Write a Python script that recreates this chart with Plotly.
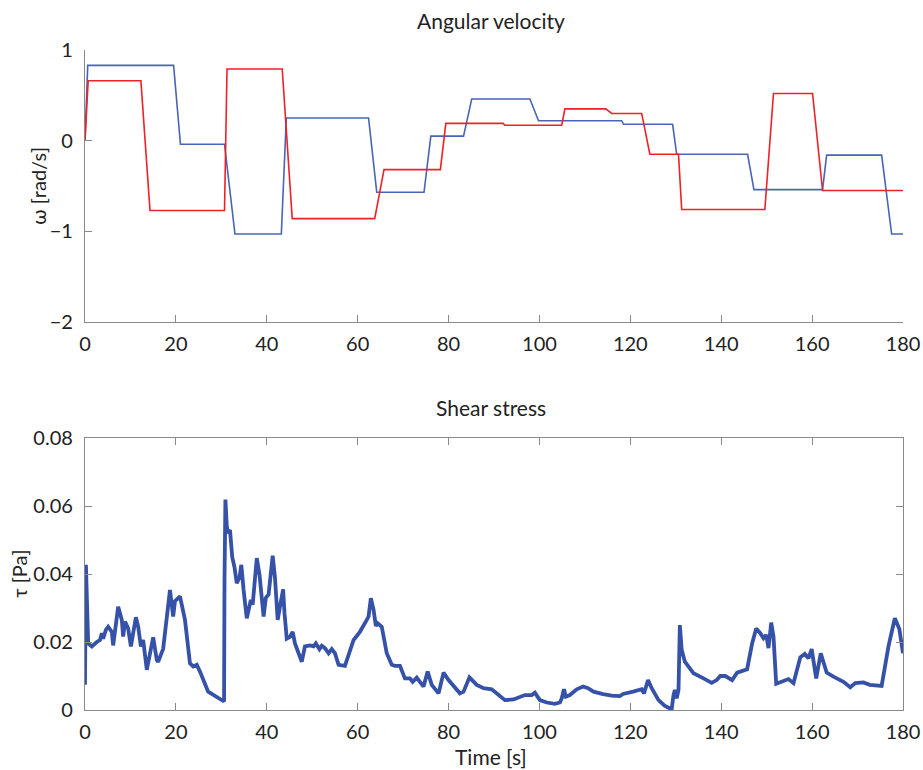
import plotly.graph_objects as go

# Angular velocity set-points (breakpoints of the two rotation programmes)
t_blue = [0, 0.6, 19.5, 21.0, 30.7, 33.0, 43.2, 44.3, 62.4, 64.2, 74.6, 76.1, 83.3, 85.1,
          97.9, 99.8, 118.1, 118.5, 129.3, 130.2, 145.8, 147.2, 162.3, 163.2, 175.3, 177.5, 180]
w_blue = [0, 0.83, 0.83, -0.04, -0.04, -1.03, -1.03, 0.25, 0.25, -0.57, -0.57, 0.05, 0.05, 0.46,
          0.46, 0.22, 0.22, 0.18, 0.18, -0.15, -0.15, -0.54, -0.54, -0.16, -0.16, -1.03, -1.03]

t_red = [0, 0.7, 12.3, 14.3, 30.7, 31.25, 43.4, 45.6, 63.75, 65.8, 78.2, 79.4, 92.0, 92.4,
         104.9, 105.6, 114.6, 115.9, 122.5, 124.3, 130.6, 131.3, 149.6, 151.5, 160.1, 162.3, 180]
w_red = [0, 0.66, 0.66, -0.77, -0.77, 0.79, 0.79, -0.86, -0.86, -0.32, -0.32, 0.19, 0.19, 0.17,
         0.17, 0.35, 0.35, 0.30, 0.30, -0.15, -0.15, -0.76, -0.76, 0.52, 0.52, -0.55, -0.55]

# Shear stress record
t_tau = [0, 0.2, 0.7, 1.5, 2.6, 3.3, 3.7, 4.0, 4.6, 5.1, 5.9, 6.2, 7.3, 8.1, 8.4, 8.8, 9.5, 10.1,
         11.2, 11.7, 12.3, 12.8, 13.6, 13.9, 15.0, 15.8, 16.1, 17.2, 18.7, 19.4, 19.8, 20.9, 22.0,
         23.1, 23.8, 24.6, 25.3, 27.1, 29.0, 30.4, 30.6, 30.7, 30.9, 31.2, 31.5, 31.9, 32.4, 32.9,
         33.4, 34.0, 34.4, 34.9, 35.6, 36.5, 36.9, 37.8, 38.4, 39.3, 39.8, 40.4, 41.3, 41.8, 42.4,
         42.9, 43.6, 43.9, 44.4, 45.1, 45.7, 46.2, 47.7, 48.4, 49.5, 50.3, 50.8, 51.6, 52.1, 52.8,
         53.6, 54.3, 55.0, 55.8, 57.2, 59.1, 60.5, 62.0, 62.4, 62.9, 63.5, 64.0, 64.4, 65.3, 66.4,
         67.5, 68.2, 69.3, 70.4, 71.5, 72.1, 73.0, 74.5, 75.4, 76.3, 77.8, 78.9, 80.0, 81.4, 82.5,
         83.3, 84.6, 86.2, 87.7, 89.5, 90.6, 92.4, 94.3, 96.8, 98.3, 99.0, 100.1, 101.6, 103.4,
         104.5, 104.9, 105.4, 105.8, 106.7, 108.2, 109.6, 110.7, 111.9, 114.0, 115.9, 117.7, 118.4,
         120.6, 122.5, 123.0, 123.9, 124.7, 126.2, 127.6, 129.1, 129.5, 129.8, 130.2, 130.6, 130.9,
         131.3, 132.0, 133.9, 136.1, 137.9, 139.0, 139.8, 140.9, 142.4, 143.5, 145.7, 146.8, 147.7,
         148.6, 149.3, 149.9, 150.4, 151.0, 151.5, 152.1, 153.4, 154.8, 155.9, 157.4, 158.4, 159.2,
         159.9, 160.9, 161.9, 163.2, 164.7, 166.9, 168.4, 169.5, 171.3, 172.7, 175.3, 176.8, 178.2,
         179.2, 180.0]
tau = [0.0074, 0.0427, 0.0196, 0.0187, 0.0200, 0.0206, 0.0226, 0.0210, 0.0236, 0.0245, 0.0230,
       0.0190, 0.0304, 0.0265, 0.0216, 0.0260, 0.0240, 0.0187, 0.0273, 0.0245, 0.0187, 0.0206,
       0.0118, 0.0142, 0.0214, 0.0147, 0.0142, 0.0180, 0.0353, 0.0275, 0.0320, 0.0334, 0.0265,
       0.0137, 0.0128, 0.0133, 0.0113, 0.0054, 0.0039, 0.0027, 0.0025, 0.0383, 0.0619, 0.0540,
       0.0520, 0.0530, 0.0450, 0.0420, 0.0373, 0.0390, 0.0427, 0.0353, 0.0270, 0.0324, 0.0310,
       0.0447, 0.0398, 0.0275, 0.0330, 0.0340, 0.0454, 0.0390, 0.0265, 0.0304, 0.0355, 0.0285,
       0.0210, 0.0215, 0.0230, 0.0196, 0.0142, 0.0187, 0.0190, 0.0187, 0.0196, 0.0179, 0.0189,
       0.0182, 0.0167, 0.0179, 0.0167, 0.0133, 0.0130, 0.0206, 0.0230, 0.0265, 0.0275, 0.0329,
       0.0295, 0.0247, 0.0255, 0.0245, 0.0167, 0.0133, 0.0130, 0.0130, 0.0093, 0.0093, 0.0083,
       0.0095, 0.0069, 0.0113, 0.0074, 0.0049, 0.0110, 0.0088, 0.0064, 0.0049, 0.0054, 0.0096,
       0.0074, 0.0064, 0.0061, 0.0049, 0.0029, 0.0031, 0.0044, 0.0044, 0.0051, 0.0029, 0.0022,
       0.0018, 0.0022, 0.0034, 0.0061, 0.0039, 0.0044, 0.0061, 0.0069, 0.0064, 0.0054, 0.0047,
       0.0042, 0.0041, 0.0047, 0.0054, 0.0061, 0.0049, 0.0088, 0.0064, 0.0029, 0.0012, 0.0002,
       0.0044, 0.0059, 0.0034, 0.0059, 0.0250, 0.0177, 0.0142, 0.0108, 0.0093, 0.0080, 0.0088,
       0.0100, 0.0100, 0.0088, 0.0110, 0.0120, 0.0196, 0.0240, 0.0226, 0.0211, 0.0221, 0.0182,
       0.0257, 0.0216, 0.0077, 0.0083, 0.0091, 0.0079, 0.0155, 0.0165, 0.0152, 0.0179, 0.0093,
       0.0167, 0.0110, 0.0098, 0.0083, 0.0067, 0.0079, 0.0081, 0.0074, 0.0071, 0.0187, 0.0270,
       0.0238, 0.0167]

x_ticks = [0, 20, 40, 60, 80, 100, 120, 140, 160, 180]
w_ticks = [-2, -1, 0, 1]
tau_ticks = [0, 0.02, 0.04, 0.06, 0.08]
tau_labels = ["0", "0.02", "0.04", "0.06", "0.08"]

FONT = "Lato"
AXIS_GREY = "#8a8a8a"
TEXT = "#222222"

fig = go.Figure()
fig.add_trace(go.Scatter(x=t_blue, y=w_blue, mode="lines", xaxis="x", yaxis="y",
                         line=dict(color="#4a64b2", width=1.6), showlegend=False))
fig.add_trace(go.Scatter(x=t_red, y=w_red, mode="lines", xaxis="x", yaxis="y",
                         line=dict(color="#ec2228", width=1.6), showlegend=False))
fig.add_trace(go.Scatter(x=t_tau, y=tau, mode="lines", xaxis="x2", yaxis="y2",
                         line=dict(color="#3552a8", width=3.8), showlegend=False))

common_x = dict(range=[0, 180], tickvals=x_ticks, ticks="inside", ticklen=7, tickwidth=1,
                tickcolor=AXIS_GREY, showline=True, linecolor=AXIS_GREY, linewidth=1.2,
                showgrid=False, zeroline=False, automargin=False, ticklabelstandoff=4,
                tickfont=dict(family=FONT, size=20, color=TEXT))
common_y = dict(ticks="inside", ticklen=7, tickwidth=1, tickcolor=AXIS_GREY,
                showline=True, linecolor=AXIS_GREY, linewidth=1.2, showgrid=False,
                zeroline=False, automargin=False, ticklabelstandoff=7,
                tickfont=dict(family=FONT, size=20, color=TEXT))


def label(text, x, y, size, angle=0):
    return dict(text=text, x=x, y=y, xref="paper", yref="paper", xanchor="center",
                yanchor="middle", textangle=angle, showarrow=False,
                font=dict(family=FONT, size=size, color=TEXT))


fig.update_layout(
    template="none",
    width=923, height=770,
    margin=dict(l=85, r=20, t=50, b=60, pad=0),
    paper_bgcolor="white", plot_bgcolor="white",
    xaxis=dict(**common_x, domain=[0, 1], anchor="y"),
    yaxis=dict(**common_y, range=[-2, 1], tickvals=w_ticks, domain=[0.588, 1], anchor="x"),
    xaxis2=dict(**common_x, domain=[0, 1], anchor="y2", mirror="ticks"),
    yaxis2=dict(**common_y, range=[0, 0.08], tickvals=tau_ticks, ticktext=tau_labels,
                domain=[0, 0.412], anchor="x2", mirror="ticks"),
    annotations=[
        label("Angular velocity", 0.496, 1.045, 21),
        label("Shear stress", 0.496, 0.458, 21),
        label("Time [s]", 0.496, -0.071, 21),
        label("ω [rad/s]", -0.057, 0.795, 20, -90),
        label("τ [Pa]", -0.081, 0.206, 20, -90),
    ],
)

fig.write_html("out.html")
